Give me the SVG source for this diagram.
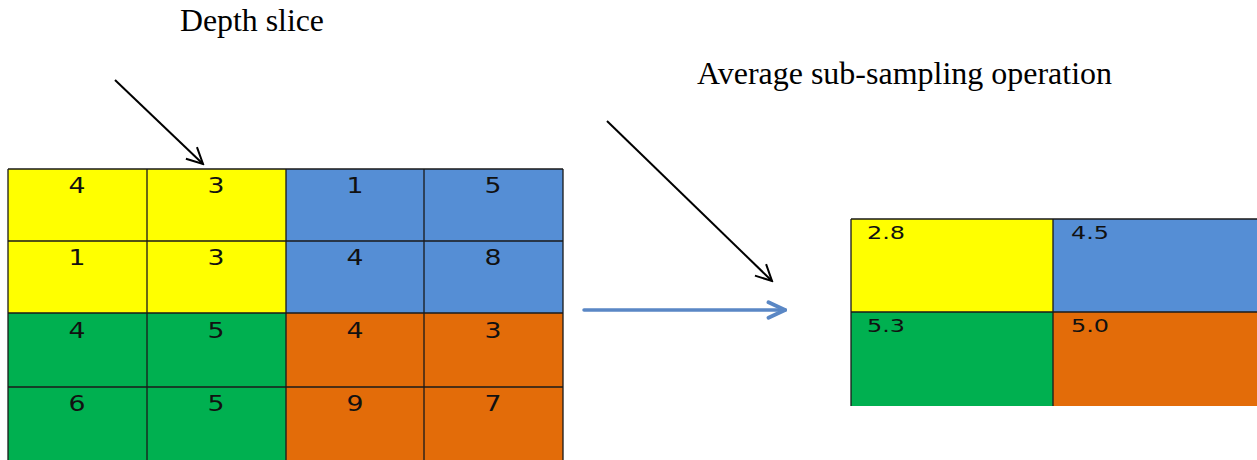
<svg xmlns="http://www.w3.org/2000/svg" width="1257" height="460" viewBox="0 0 1257 460">
<defs>
<style>
.lbl{font-family:"Liberation Serif","Times New Roman",serif;font-size:31px;fill:#000}
.num{font-family:"DejaVu Sans",Verdana,sans-serif;font-size:21px;fill:#111;text-anchor:middle}
.snum{font-family:"DejaVu Sans",Verdana,sans-serif;font-size:18px;fill:#111}
.y{fill:#FFFF00}.b{fill:#558ED5}.g{fill:#00B050}.o{fill:#E36C09}
.grid{stroke:#1a1a1a;stroke-width:1.3;fill:none}
.ptr{stroke:#000;stroke-width:2;fill:none}
</style>
<marker id="open" viewBox="0 0 20 20" refX="18" refY="10" markerWidth="20" markerHeight="20" markerUnits="userSpaceOnUse" orient="auto">
<path d="M2,2 L18,10 L2,18" fill="none" stroke="#000" stroke-width="2"/>
</marker>
<marker id="blue" viewBox="0 0 20 20" refX="18" refY="10" markerWidth="22" markerHeight="22" markerUnits="userSpaceOnUse" orient="auto">
<path d="M3,3 L18,10 L3,17" fill="none" stroke="#5A87C5" stroke-width="3.5" stroke-linecap="round"/>
</marker>
</defs>
<rect width="1257" height="460" fill="#fff"/>
<text class="lbl" x="180" y="31" textLength="144" lengthAdjust="spacingAndGlyphs">Depth slice</text>
<text class="lbl" x="697" y="84" textLength="415" lengthAdjust="spacingAndGlyphs">Average sub-sampling operation</text>

<g id="input-grid">
<rect class="y" x="8" y="169" width="278" height="144"/>
<rect class="b" x="286" y="169" width="277" height="144"/>
<rect class="g" x="8" y="313" width="278" height="147"/>
<rect class="o" x="286" y="313" width="277" height="147"/>
<path class="grid" d="M8,169 H563 M8,241 H563 M8,313 H563 M8,387 H563 M8,169 V460 M147,169 V460 M286,169 V460 M424,169 V460 M563,169 V460"/>
<g lengthAdjust="spacingAndGlyphs">
<text class="num" x="77" y="193" textLength="17" lengthAdjust="spacingAndGlyphs">4</text><text class="num" x="216" y="193" textLength="17" lengthAdjust="spacingAndGlyphs">3</text><text class="num" x="355" y="193" textLength="17" lengthAdjust="spacingAndGlyphs">1</text><text class="num" x="493" y="193" textLength="17" lengthAdjust="spacingAndGlyphs">5</text>
<text class="num" x="77" y="265" textLength="17" lengthAdjust="spacingAndGlyphs">1</text><text class="num" x="216" y="265" textLength="17" lengthAdjust="spacingAndGlyphs">3</text><text class="num" x="355" y="265" textLength="17" lengthAdjust="spacingAndGlyphs">4</text><text class="num" x="493" y="265" textLength="17" lengthAdjust="spacingAndGlyphs">8</text>
<text class="num" x="77" y="338" textLength="17" lengthAdjust="spacingAndGlyphs">4</text><text class="num" x="216" y="338" textLength="17" lengthAdjust="spacingAndGlyphs">5</text><text class="num" x="355" y="338" textLength="17" lengthAdjust="spacingAndGlyphs">4</text><text class="num" x="493" y="338" textLength="17" lengthAdjust="spacingAndGlyphs">3</text>
<text class="num" x="77" y="411" textLength="17" lengthAdjust="spacingAndGlyphs">6</text><text class="num" x="216" y="411" textLength="17" lengthAdjust="spacingAndGlyphs">5</text><text class="num" x="355" y="411" textLength="17" lengthAdjust="spacingAndGlyphs">9</text><text class="num" x="493" y="411" textLength="17" lengthAdjust="spacingAndGlyphs">7</text>
</g>
</g>

<g id="output-grid">
<rect class="y" x="851" y="219" width="202" height="93"/>
<rect class="b" x="1053" y="219" width="204" height="93"/>
<rect class="g" x="851" y="312" width="202" height="94"/>
<rect class="o" x="1053" y="312" width="204" height="94"/>
<path class="grid" d="M851,219 H1257 M851,312 H1257 M851,219 V406 M1053,219 V406"/>
<text class="snum" x="867" y="239" textLength="38" lengthAdjust="spacingAndGlyphs">2.8</text>
<text class="snum" x="1071" y="239" textLength="38" lengthAdjust="spacingAndGlyphs">4.5</text>
<text class="snum" x="867" y="332" textLength="38" lengthAdjust="spacingAndGlyphs">5.3</text>
<text class="snum" x="1071" y="332" textLength="38" lengthAdjust="spacingAndGlyphs">5.0</text>
</g>

<g id="connectors">
<line class="ptr" x1="115" y1="80" x2="203" y2="164" marker-end="url(#open)"/>
<line class="ptr" x1="607" y1="121" x2="772" y2="281" marker-end="url(#open)"/>
<line x1="584" y1="310" x2="785" y2="310" stroke="#5A87C5" stroke-width="3.5" stroke-linecap="round" marker-end="url(#blue)"/>
</g>
</svg>
